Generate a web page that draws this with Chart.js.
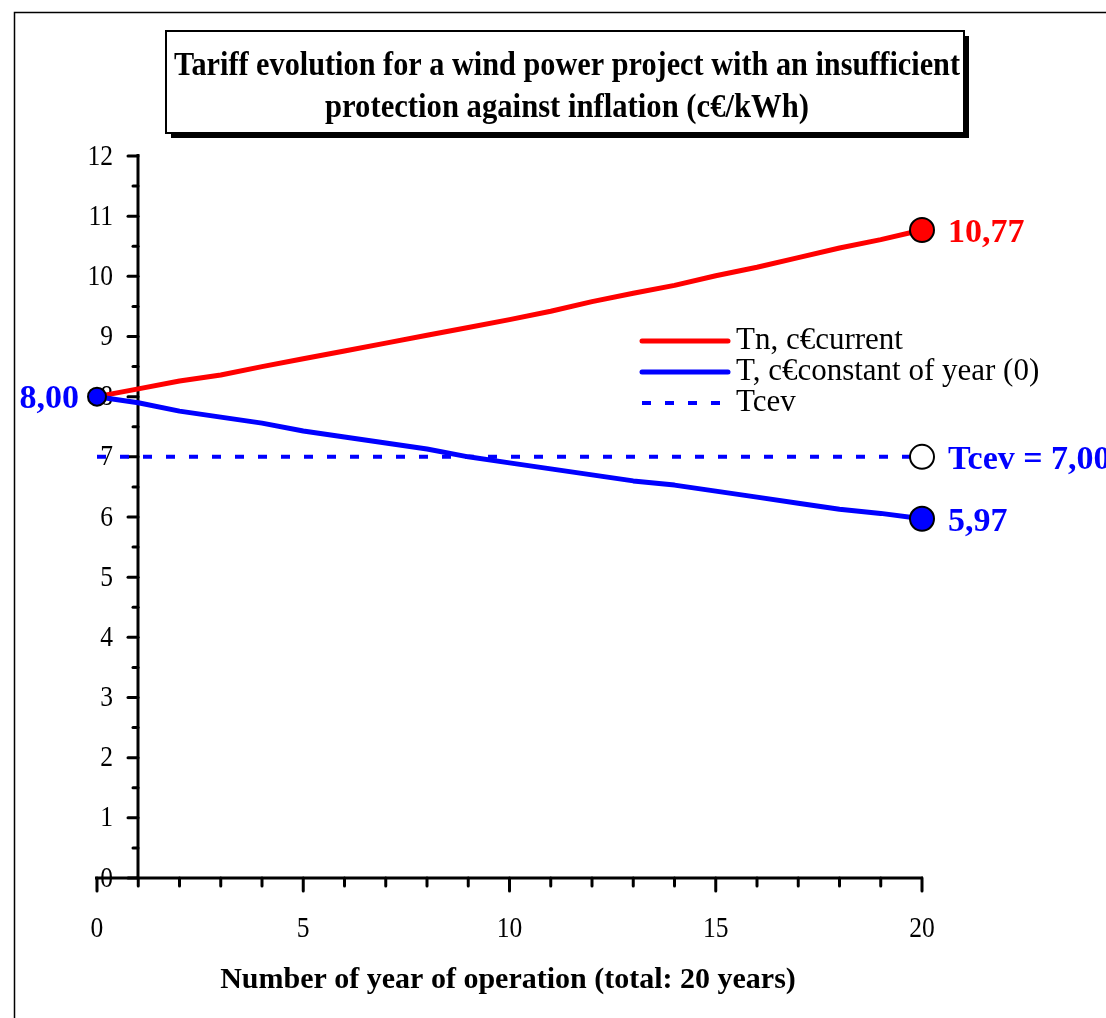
<!DOCTYPE html>
<html>
<head>
<meta charset="utf-8">
<script src="https://cdn.jsdelivr.net/npm/chart.js@4/dist/chart.umd.min.js"></script>
<style>
  html, body { margin: 0; padding: 0; background: #fff; }
  canvas { display: block; }
</style>
</head>
<body>
<canvas id="c" width="1106" height="1018"></canvas>
<script>
// Years of operation
const years = [0,1,2,3,4,5,6,7,8,9,10,11,12,13,14,15,16,17,18,19,20];
// Tariff in current c€
const tariffCurrent = [8.00,8.13,8.26,8.36,8.50,8.63,8.76,8.89,9.02,9.15,9.28,9.42,9.58,9.72,9.85,10.01,10.15,10.31,10.47,10.61,10.77];
// Tariff in constant c€ of year 0
const tariffConstant = [8.00,7.90,7.76,7.66,7.56,7.43,7.33,7.23,7.13,7.00,6.90,6.80,6.70,6.60,6.53,6.43,6.33,6.23,6.13,6.06,5.97];
// Levelised tariff
const tcevYears = [0, 20];
const tcevValues = [7.00, 7.00];

const yTicks = [0,1,2,3,4,5,6,7,8,9,10,11,12];
const xTicks = [0,5,10,15,20];
const seriesNames = ['Tn, c€current', 'T, c€constant of year (0)', 'Tcev'];
const titleLines = ['Tariff evolution for a wind power project with an insufficient',
                    'protection against inflation (c€/kWh)'];
const xTitle = 'Number of year of operation (total: 20 years)';

const RED = '#ff0000', BLUE = '#0000ff';
const SERIF = '"Liberation Serif", "Times New Roman", serif';

const pts = (xs, ys) => xs.map((x, i) => ({x: x, y: ys[i]}));
const endRadius = (n, first, last) => Array.from({length: n}, (_, i) => i === 0 ? first : (i === n - 1 ? last : 0));
const fmt = v => v.toFixed(2).replace('.', ',');

// text drawn with a horizontal squeeze factor
function narrowText(ctx, str, x, y, sx) {
  ctx.save();
  ctx.translate(x, y);
  ctx.scale(sx, 1);
  ctx.fillText(str, 0, 0);
  ctx.restore();
}

const decorations = {
  id: 'decorations',
  beforeDatasetsDraw(chart) {
    const ctx = chart.ctx;
    const xs = chart.scales.x, ys = chart.scales.y;
    ctx.save();

    // outer frame
    ctx.strokeStyle = '#000';
    ctx.lineWidth = 1.5;
    ctx.strokeRect(14.5, 12.5, 1200, 1100);

    // title box with shadow
    ctx.fillStyle = '#000';
    ctx.fillRect(171, 36, 798, 102);
    ctx.fillStyle = '#fff';
    ctx.fillRect(166, 31, 798, 102);
    ctx.lineWidth = 2;
    ctx.strokeRect(166, 31, 798, 102);
    ctx.fillStyle = '#000';
    ctx.textAlign = 'center';
    ctx.textBaseline = 'alphabetic';
    ctx.font = 'bold 33px ' + SERIF;
    ctx.fillText(titleLines[0], 567, 75, 786);
    ctx.fillText(titleLines[1], 567, 117, 484);

    // y axis: drawn at year 1
    const ax = Math.round(xs.getPixelForValue(1));
    const y0 = ys.getPixelForValue(0), y12 = ys.getPixelForValue(12);
    ctx.lineWidth = 3;
    ctx.lineCap = 'butt';
    ctx.beginPath();
    ctx.moveTo(ax, y12 - 2);
    ctx.lineTo(ax, y0);
    ctx.stroke();
    ctx.lineCap = 'round';
    for (let v = 0; v <= 12; v += 0.5) {
      const py = ys.getPixelForValue(v);
      const len = Number.isInteger(v) ? 10 : 5;
      ctx.beginPath();
      ctx.moveTo(ax - len, py);
      ctx.lineTo(ax, py);
      ctx.stroke();
    }
    ctx.font = '29px ' + SERIF;
    ctx.textAlign = 'right';
    ctx.textBaseline = 'middle';
    yTicks.forEach(v => narrowText(ctx, String(v), 113, ys.getPixelForValue(v) + 1, 0.88));

    // x axis
    const x0 = xs.getPixelForValue(0), x20 = xs.getPixelForValue(20);
    ctx.lineCap = 'butt';
    ctx.beginPath();
    ctx.moveTo(x0 - 2, y0);
    ctx.lineTo(x20 + 1, y0);
    ctx.stroke();
    ctx.lineCap = 'round';
    years.forEach(v => {
      const px = xs.getPixelForValue(v);
      const len = v % 5 === 0 ? 13 : 8;
      ctx.beginPath();
      ctx.moveTo(px, y0);
      ctx.lineTo(px, y0 + len);
      ctx.stroke();
    });
    ctx.textAlign = 'center';
    xTicks.forEach(v => narrowText(ctx, String(v), xs.getPixelForValue(v), 929, 0.88));

    ctx.font = 'bold 30px ' + SERIF;
    ctx.fillText(xTitle, 508, 980, 580);

    // legend
    const legend = [
      {c: RED, dash: []},
      {c: BLUE, dash: []},
      {c: BLUE, dash: [9, 14]}
    ];
    ctx.font = '31px ' + SERIF;
    ctx.textAlign = 'left';
    legend.forEach((l, i) => {
      const ly = 341 + i * 31;
      ctx.strokeStyle = l.c;
      ctx.lineWidth = l.dash.length ? 4 : 5;
      ctx.lineCap = l.dash.length ? 'butt' : 'round';
      ctx.setLineDash(l.dash);
      ctx.beginPath();
      ctx.moveTo(642, ly);
      ctx.lineTo(728, ly);
      ctx.stroke();
      ctx.setLineDash([]);
      ctx.fillStyle = '#000';
      ctx.fillText(seriesNames[i], 736, ly);
    });
    ctx.restore();
  },
  afterDatasetsDraw(chart) {
    const ctx = chart.ctx;
    const xs = chart.scales.x, ys = chart.scales.y;
    ctx.save();
    ctx.font = 'bold 34px ' + SERIF;
    ctx.textBaseline = 'middle';
    ctx.textAlign = 'left';
    const last = years.length - 1;
    const lx = xs.getPixelForValue(years[last]) + 26;
    ctx.fillStyle = RED;
    ctx.fillText(fmt(tariffCurrent[last]), lx, ys.getPixelForValue(tariffCurrent[last]) + 3);
    ctx.fillStyle = BLUE;
    ctx.fillText(fmt(tariffConstant[last]), lx, ys.getPixelForValue(tariffConstant[last]) + 3);
    ctx.fillText('Tcev = ' + fmt(tcevValues[1]), lx, ys.getPixelForValue(tcevValues[1]) + 3);
    ctx.textAlign = 'right';
    ctx.fillText(fmt(tariffConstant[0]), 79, ys.getPixelForValue(tariffConstant[0]) + 3);
    ctx.restore();
  }
};

new Chart(document.getElementById('c'), {
  type: 'line',
  data: {
    datasets: [
      {
        label: seriesNames[2],
        data: pts(tcevYears, tcevValues),
        borderColor: BLUE,
        borderWidth: 4,
        borderDash: [9, 14],
        borderCapStyle: 'butt',
        pointRadius: [0, 12],
        pointBackgroundColor: '#fff',
        pointBorderColor: '#000',
        pointBorderWidth: 2,
        clip: false,
        order: 3
      },
      {
        label: seriesNames[0],
        data: pts(years, tariffCurrent),
        borderColor: RED,
        borderWidth: 5,
        borderJoinStyle: 'round',
        pointRadius: endRadius(years.length, 0, 12),
        pointBackgroundColor: RED,
        pointBorderColor: '#000',
        pointBorderWidth: 2,
        clip: false,
        order: 2
      },
      {
        label: seriesNames[1],
        data: pts(years, tariffConstant),
        borderColor: BLUE,
        borderWidth: 5,
        borderJoinStyle: 'round',
        pointRadius: endRadius(years.length, 9, 12),
        pointBackgroundColor: BLUE,
        pointBorderColor: '#000',
        pointBorderWidth: 2,
        clip: false,
        order: 1
      }
    ]
  },
  options: {
    responsive: false,
    animation: false,
    devicePixelRatio: 1,
    layout: { padding: { left: 97, right: 184, top: 156, bottom: 140 } },
    scales: {
      x: { type: 'linear', min: 0, max: 20, display: false },
      y: { type: 'linear', min: 0, max: 12, display: false }
    },
    plugins: {
      legend: { display: false },
      title: { display: false },
      tooltip: { enabled: false }
    },
    elements: { line: { tension: 0 } }
  },
  plugins: [decorations]
});
</script>
</body>
</html>
